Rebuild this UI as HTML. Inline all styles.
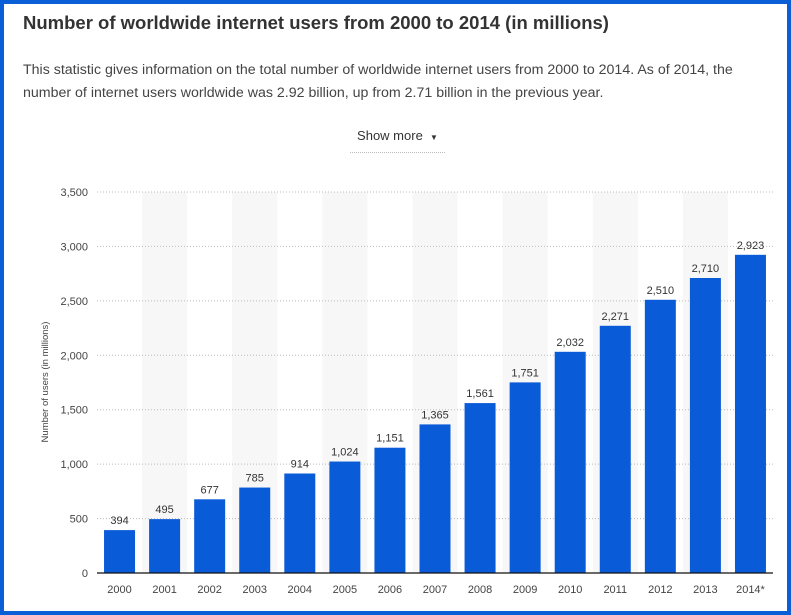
<!DOCTYPE html>
<html><head><meta charset="utf-8"><style>
html,body{margin:0;padding:0}
body{width:791px;height:615px;overflow:hidden;background:#fff;font-family:"Liberation Sans",sans-serif}
#frame{position:absolute;left:0;top:0;width:783px;height:607px;border:4px solid #0a5fd6;background:#fff}
h1{position:absolute;left:23px;top:12px;margin:0;font-size:18.5px;font-weight:bold;color:#333}
p{position:absolute;left:23px;top:59px;margin:0;width:740px;font-size:14.2px;line-height:23px;color:#444}
#more{position:absolute;left:350px;top:128px;width:95px;height:24px;font-size:13px;color:#333;text-align:center;border-bottom:1px dotted #bbb}
svg{position:absolute;left:0;top:0}
</style></head><body>
<div id="frame"></div>
<h1>Number of worldwide internet users from 2000 to 2014 (in millions)</h1>
<p>This statistic gives information on the total number of worldwide internet users from 2000 to 2014. As of 2014, the number of internet users worldwide was 2.92 billion, up from 2.71 billion in the previous year.</p>
<div id="more">Show more &nbsp;<span style="font-size:8px">▼</span></div>
<svg id="chart" width="791" height="615"></svg>
<script>
const categories=["2000","2001","2002","2003","2004","2005","2006","2007","2008","2009","2010","2011","2012","2013","2014*"];
const values=[394,495,677,785,914,1024,1151,1365,1561,1751,2032,2271,2510,2710,2923];
const ticks=[0,500,1000,1500,2000,2500,3000,3500];
const NS="http://www.w3.org/2000/svg";
const svg=document.getElementById('chart');
const L=97,R=773,Y0=573,Y1=192,MAX=3500;
const step=(R-L)/categories.length;
const y=v=>Y0-(v/MAX)*(Y0-Y1);
const xc=i=>L+step*(i+0.5);
function mk(t,a){const e=document.createElementNS(NS,t);for(const k in a)e.setAttribute(k,a[k]);svg.appendChild(e);return e;}
categories.forEach((c,i)=>{if(i%2==1){const r=mk('rect',{x:L+step*i,y:Y1,width:step,height:Y0-Y1,fill:'#f7f7f7'});

}});
ticks.forEach(t=>{if(t>0){const l=mk('line',{x1:L,x2:R,y1:y(t),y2:y(t),stroke:'#bbb','stroke-dasharray':'1,2'});

}
const tx=mk('text',{x:88,y:y(t)+4,'text-anchor':'end','font-size':11,fill:'#444','font-family':'Liberation Sans, sans-serif'});
tx.textContent=t.toLocaleString('en-US');

});
const yt=mk('text',{x:0,y:0,transform:'translate(48,382) rotate(-90)','text-anchor':'middle','font-size':9.5,fill:'#444','font-family':'Liberation Sans, sans-serif'});
yt.textContent='Number of users (in millions)';


values.forEach((v,i)=>{const bw=31;
const b=mk('rect',{x:xc(i)-bw/2,y:y(v),width:bw,height:Y0-y(v),fill:'#0a5bd8'});


const lb=mk('text',{x:xc(i),y:y(v)-6,'text-anchor':'middle','font-size':11,fill:'#333','font-family':'Liberation Sans, sans-serif'});
lb.textContent=v.toLocaleString('en-US');


const xl=mk('text',{x:xc(i),y:593,'text-anchor':'middle','font-size':11,fill:'#444','font-family':'Liberation Sans, sans-serif'});
xl.textContent=categories[i];

});
const ax=mk('line',{x1:L,x2:R,y1:Y0,y2:Y0,stroke:'#111','stroke-width':1.2});


</script>
</body></html>
